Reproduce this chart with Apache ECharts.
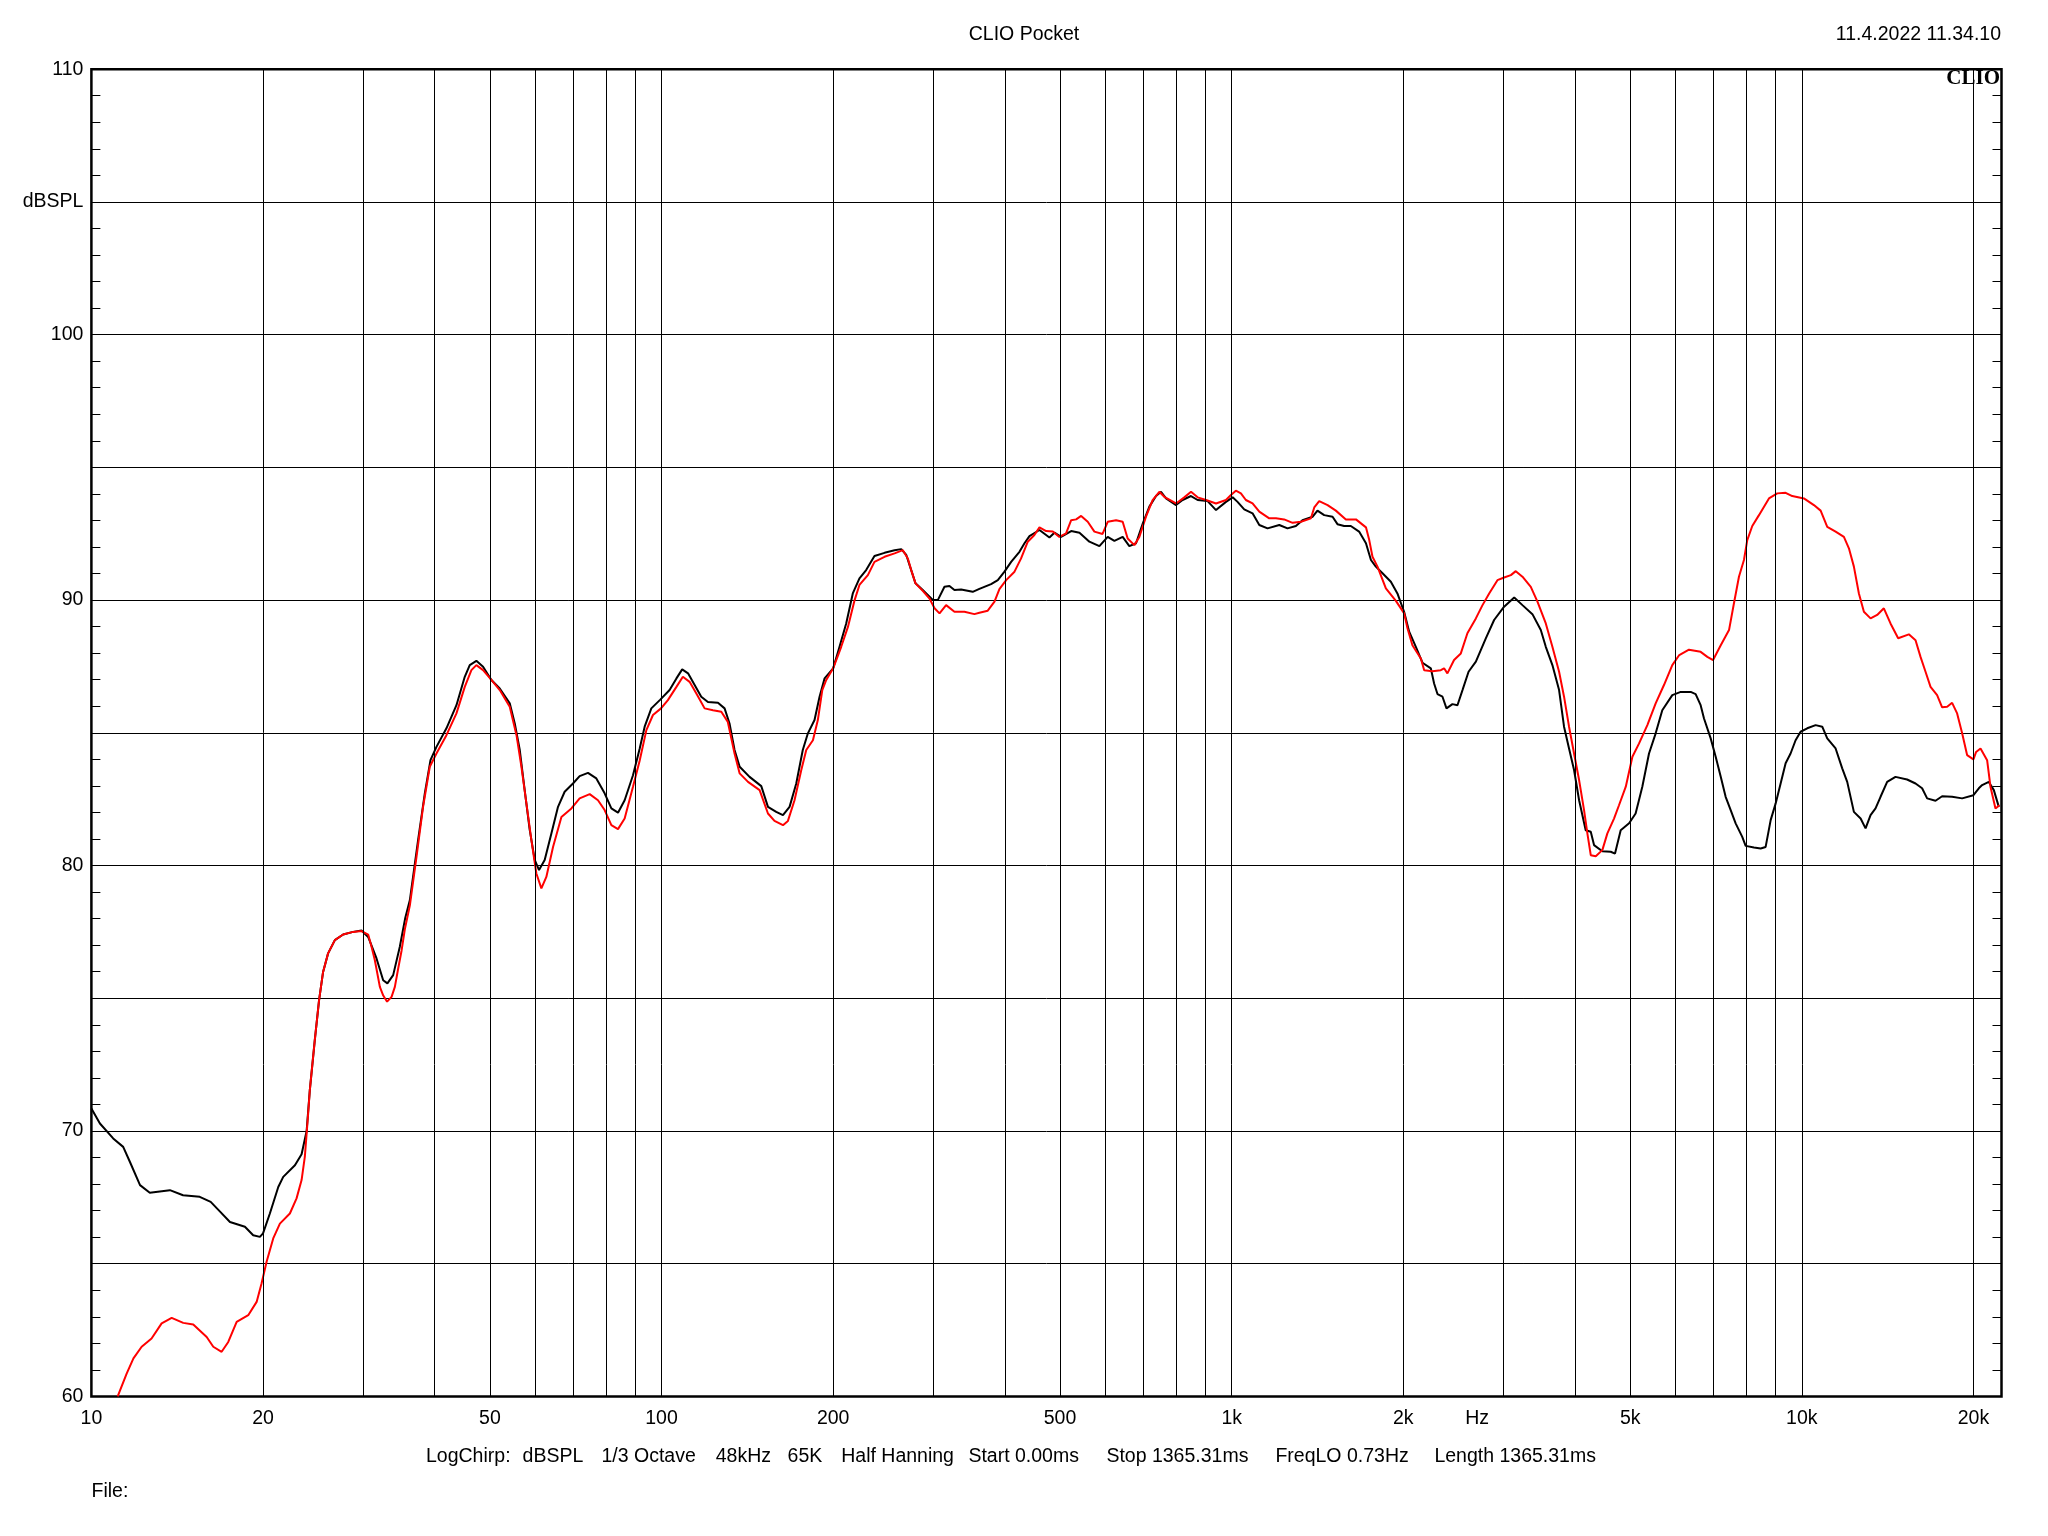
<!DOCTYPE html>
<html><head><meta charset="utf-8">
<script src="https://cdn.jsdelivr.net/npm/echarts@6/dist/echarts.min.js"></script>
<style>html,body{margin:0;padding:0;background:#fff}#c{width:2048px;height:1536px}</style>
</head><body><div id="c"></div>
<script>
// ---- data (frequency Hz, level dBSPL) ----
const blackCurve = [[10.0,70.85],[10.35,70.28],[10.92,69.72],[11.37,69.40],[11.68,68.84],[12.17,67.96],[12.66,67.67],[13.73,67.77],[14.48,67.58],[15.49,67.52],[16.19,67.33],[16.83,66.95],[17.5,66.57],[18.59,66.39],[19.22,66.07],[19.75,66.01],[20.0,66.14],[20.56,66.89],[21.27,67.89],[21.70,68.27],[22.75,68.71],[23.37,69.12],[23.85,70.0],[24.16,71.54],[24.65,73.42],[25.08,74.93],[25.49,75.99],[26.01,76.69],[26.73,77.19],[27.64,77.40],[28.78,77.50],[29.77,77.55],[30.58,77.31],[31.63,76.5],[32.49,75.68],[33.05,75.56],[33.83,75.87],[34.75,76.94],[35.5,78.0],[36.19,78.70],[37.41,80.96],[38.44,82.72],[39.33,83.97],[40.29,84.47],[41.95,85.17],[43.68,86.04],[45.17,87.11],[46.09,87.55],[47.34,87.71],[48.64,87.49],[50.30,86.99],[52.03,86.67],[54.17,86.11],[55.28,85.35],[56.41,84.35],[57.54,82.84],[58.72,81.34],[59.92,80.21],[60.97,79.83],[62.38,80.21],[64.09,81.21],[65.83,82.21],[67.62,82.78],[69.93,83.09],[71.84,83.37],[74.30,83.49],[76.85,83.28],[79.47,82.72],[81.66,82.15],[83.87,81.99],[86.16,82.46],[89.11,83.40],[91.54,84.4],[93.41,85.23],[95.96,85.92],[99.5,86.25],[103.3,86.61],[106.2,87.05],[108.7,87.39],[111.3,87.24],[114.3,86.80],[117.4,86.36],[120.6,86.16],[125.6,86.13],[129.0,85.92],[131.6,85.35],[134.3,84.35],[137.1,83.72],[142.7,83.34],[149.6,82.99],[153.7,82.21],[158.9,82.02],[163.3,81.90],[167.7,82.21],[172.3,83.09],[176.9,84.35],[180.6,84.98],[185.5,85.48],[189.3,86.36],[193.2,87.05],[200,87.43],[205.2,88.24],[210.8,89.12],[216.5,90.25],[222.4,90.82],[228.5,91.13],[236.3,91.66],[246.1,91.78],[256.3,91.88],[263.3,91.92],[268.7,91.70],[274.1,91.13],[278.9,90.63],[287.2,90.38],[299.1,90.0],[305.2,90.0],[313.5,90.50],[319.9,90.53],[326.4,90.38],[335.3,90.40],[351.4,90.31],[361.0,90.42],[378.5,90.60],[388.9,90.75],[399.5,91.07],[410.4,91.44],[424.4,91.82],[433.1,92.14],[441.9,92.41],[460.1,92.64],[479.0,92.36],[488.8,92.54],[502.1,92.38],[523.0,92.60],[540.8,92.54],[562.9,92.20],[586.1,92.03],[606.1,92.38],[622.7,92.23],[643.9,92.38],[661.5,92.03],[679.6,92.14],[698.5,92.89],[717.2,93.52],[736.8,93.92],[751.8,94.08],[767.1,93.83],[798.8,93.58],[820.1,93.77],[848.6,93.92],[871.5,93.77],[907.4,93.73],[938.7,93.39],[977.2,93.70],[1004,93.87],[1024,93.70],[1052,93.42],[1088,93.27],[1118,92.83],[1156,92.70],[1212,92.83],[1253,92.70],[1296,92.79],[1331,93.01],[1387,93.14],[1414,93.37],[1453,93.20],[1503,93.14],[1533,92.86],[1575,92.79],[1618,92.79],[1673,92.58],[1720,92.14],[1755,91.51],[1790,91.26],[1839,91.01],[1902,90.69],[1953,90.25],[2007,89.55],[2048,88.81],[2104,88.24],[2161,87.64],[2235,87.43],[2265,86.86],[2296,86.46],[2343,86.36],[2381,85.92],[2439,86.08],[2489,86.04],[2540,86.61],[2603,87.30],[2681,87.68],[2791,88.56],[2886,89.25],[3005,89.75],[3130,90.10],[3236,89.81],[3369,89.47],[3485,88.87],[3556,88.24],[3652,87.55],[3752,86.61],[3828,85.23],[3906,84.41],[3986,83.60],[4068,82.46],[4178,81.33],[4264,81.27],[4321,80.77],[4468,80.54],[4622,80.52],[4703,80.45],[4812,81.33],[4978,81.59],[5111,81.96],[5251,82.97],[5395,84.22],[5542,84.98],[5692,85.85],[5927,86.42],[6133,86.54],[6385,86.54],[6513,86.46],[6646,86.04],[6737,85.54],[6921,84.79],[7062,84.10],[7208,83.34],[7352,82.59],[7503,82.09],[7655,81.59],[7862,81.08],[7971,80.74],[8244,80.68],[8469,80.64],[8641,80.70],[8818,81.71],[8998,82.34],[9180,83.09],[9367,83.85],[9557,84.22],[9752,84.72],[9951,85.04],[10221,85.17],[10573,85.29],[10860,85.23],[11082,84.79],[11463,84.41],[11773,83.66],[12013,83.15],[12341,82.02],[12681,81.77],[12937,81.40],[13200,81.90],[13468,82.15],[13744,82.59],[14115,83.15],[14598,83.34],[15300,83.24],[15830,83.09],[16255,82.91],[16589,82.53],[17159,82.44],[17625,82.61],[18350,82.59],[19108,82.53],[20000,82.65],[20439,82.91],[20715,83.03],[21281,83.15],[21717,82.84],[22159,82.21]];

const redCurve = [[11.12,60.0],[11.53,60.86],[11.85,61.43],[12.25,61.87],[12.75,62.18],[13.28,62.75],[13.83,62.96],[14.49,62.77],[15.09,62.71],[15.93,62.24],[16.36,61.87],[16.92,61.68],[17.38,62.05],[17.98,62.81],[18.84,63.06],[19.49,63.56],[19.88,64.25],[20.29,65.07],[20.84,65.95],[21.41,66.51],[22.29,66.89],[22.90,67.46],[23.37,68.15],[23.68,69.03],[24.0,70.66],[24.16,71.54],[24.65,73.42],[25.08,74.93],[25.49,75.99],[26.01,76.69],[26.73,77.19],[27.64,77.40],[28.78,77.50],[29.77,77.53],[30.58,77.4],[31.0,76.94],[31.41,76.44],[32.06,75.43],[32.5,75.1],[33.01,74.87],[33.61,75.05],[34.06,75.43],[34.51,76.1],[35.0,76.8],[35.46,77.6],[36.19,78.5],[37.17,80.33],[38.17,82.21],[39.22,83.72],[40.29,84.22],[41.95,84.91],[43.68,85.73],[45.17,86.73],[46.40,87.36],[47.34,87.55],[48.64,87.36],[50.30,86.99],[52.03,86.61],[54.17,85.98],[55.67,84.91],[56.79,83.72],[57.94,82.34],[59.12,80.96],[60.32,79.70],[61.55,79.14],[62.80,79.57],[64.52,80.70],[66.74,81.83],[69.49,82.15],[71.84,82.53],[74.82,82.69],[77.36,82.46],[79.47,82.09],[81.66,81.52],[83.87,81.37],[86.16,81.77],[89.11,82.97],[91.54,83.95],[94.06,85.10],[96.60,85.67],[99.8,85.92],[102.6,86.23],[106.2,86.73],[109.0,87.11],[112.0,86.92],[115.1,86.48],[119.0,85.92],[123.1,85.85],[127.3,85.79],[130.7,85.41],[134.3,84.22],[137.1,83.47],[141.8,83.15],[148.6,82.84],[153.7,81.96],[157.8,81.68],[163.3,81.52],[166.6,81.68],[171.1,82.46],[175.8,83.59],[179.4,84.35],[184.3,84.72],[188.0,85.48],[191.4,86.61],[194.5,86.99],[200,87.43],[206.6,88.24],[212.3,88.99],[218.1,90.0],[222.4,90.57],[230.1,90.94],[236.3,91.44],[246.1,91.63],[256.3,91.76],[265.0,91.88],[270.4,91.57],[274.1,91.13],[278.9,90.63],[287.2,90.35],[295.1,90.06],[301.2,89.69],[307.3,89.50],[315.6,89.81],[326.4,89.56],[339.8,89.56],[353.8,89.47],[361.0,89.52],[373.4,89.60],[383.7,89.94],[391.4,90.41],[402.2,90.75],[416.0,91.07],[427.2,91.57],[438.9,92.20],[450.8,92.45],[460.1,92.74],[472.7,92.60],[485.6,92.58],[498.6,92.38],[512.3,92.51],[523.0,93.01],[533.6,93.04],[544.5,93.17],[559.2,92.95],[574.4,92.58],[593.7,92.49],[606.1,92.95],[627.0,93.01],[643.9,92.95],[657.0,92.32],[675.0,92.07],[688.7,92.38],[707.5,93.14],[726.7,93.77],[746.6,94.08],[761.7,93.89],[798.8,93.64],[825.8,93.87],[848.6,94.08],[871.5,93.87],[901.6,93.77],[938.7,93.64],[977.2,93.77],[997,93.96],[1017,94.12],[1038,94.02],[1059,93.77],[1088,93.64],[1118,93.33],[1164,93.08],[1196,93.08],[1236,93.04],[1279,92.91],[1323,92.95],[1377,93.08],[1396,93.49],[1424,93.73],[1473,93.58],[1523,93.37],[1586,93.04],[1652,93.04],[1720,92.74],[1743,92.26],[1766,91.63],[1802,91.26],[1864,90.44],[1941,89.97],[2007,89.5],[2034,88.94],[2075,88.3],[2147,87.80],[2176,87.36],[2250,87.32],[2327,87.36],[2358,87.43],[2390,87.24],[2455,87.74],[2523,87.99],[2591,88.75],[2681,89.31],[2754,89.81],[2829,90.25],[2925,90.75],[3005,90.85],[3088,90.94],[3150,91.09],[3236,90.88],[3347,90.50],[3438,89.94],[3556,89.12],[3652,88.24],[3752,87.30],[3828,86.36],[3906,85.23],[3986,84.22],[4068,83.22],[4150,82.09],[4206,81.21],[4264,80.39],[4351,80.35],[4468,80.58],[4560,81.21],[4684,81.77],[4779,82.27],[4912,82.97],[5045,84.10],[5183,84.60],[5359,85.29],[5542,86.11],[5731,86.80],[5927,87.55],[6096,87.93],[6340,88.13],[6646,88.05],[6828,87.86],[6988,87.74],[7208,88.30],[7453,88.87],[7603,89.88],[7758,90.88],[7916,91.51],[8023,92.26],[8187,92.79],[8411,93.20],[8757,93.83],[9056,94.02],[9367,94.04],[9621,93.92],[10085,93.83],[10500,93.58],[10790,93.37],[11082,92.76],[11463,92.58],[11853,92.38],[12095,91.95],[12341,91.26],[12593,90.25],[12850,89.56],[13200,89.31],[13558,89.44],[13928,89.69],[14308,89.12],[14757,88.56],[15407,88.71],[15830,88.49],[16152,87.86],[16482,87.30],[16819,86.73],[17271,86.42],[17625,85.96],[17986,85.98],[18350,86.13],[18725,85.73],[19108,84.98],[19495,84.16],[20000,84.00],[20218,84.28],[20580,84.41],[21136,83.97],[21424,82.97],[21862,82.15],[22217,82.27]];

// ---- axes ----
const xMin = 10, xMax = 22400;
const yMin = 60, yMax = 110, yStep = 5;
const gridFreqs = [20,30,40,50,60,70,80,90,100,200,300,400,500,600,700,800,900,1000,2000,3000,4000,5000,6000,7000,8000,9000,10000,20000];
const xLabelValues = [10,20,50,100,200,500,1000,2000,2695,5000,10000,20000];
const xLabelTexts  = ['10','20','50','100','200','500','1k','2k','Hz','5k','10k','20k'];
const yLabelTexts = {60:'60',70:'70',80:'80',90:'90',100:'100',105:'dBSPL',110:'110'};

// ---- texts ----
const titleText = 'CLIO Pocket';
const dateText = '11.4.2022 11.34.10';
const logoText = 'CLIO';
const fileText = 'File:';
const infoItems = ['LogChirp:','dBSPL','1/3 Octave','48kHz','65K','Half Hanning','Start 0.00ms','Stop 1365.31ms','FreqLO 0.73Hz','Length 1365.31ms'];
// layout (pixel x of each info item)
const infoLayoutX = [426,522.6,601.5,715.7,787.6,841.2,968.4,1106.4,1275.4,1434.4];

const FONT = '"Liberation Sans", Arial, sans-serif';
const FS = 19.5;

const chart = echarts.init(document.getElementById('c'), null, {renderer:'canvas'});

function xFmt(v){
  for (let i=0;i<xLabelValues.length;i++){
    if (Math.abs(v - xLabelValues[i]) / xLabelValues[i] < 1e-4) return xLabelTexts[i];
  }
  return '';
}

const graphics = [
  {type:'text', x:1024, y:35, style:{text:titleText, font: FS+'px '+FONT, fill:'#000', textAlign:'center', textVerticalAlign:'middle'}},
  {type:'text', x:2001, y:35, style:{text:dateText, font: FS+'px '+FONT, fill:'#000', textAlign:'right', textVerticalAlign:'middle'}},
  {type:'text', x:2000, y:79, z:10, style:{text:logoText, font:'bold 21px "Liberation Serif", "Times New Roman", serif', fill:'#000', textAlign:'right', textVerticalAlign:'middle'}},
  {type:'text', x:91.5, y:1492, style:{text:fileText, font: FS+'px '+FONT, fill:'#000', textAlign:'left', textVerticalAlign:'middle'}}
];
infoItems.forEach((t,i)=>{
  graphics.push({type:'text', x:infoLayoutX[i], y:1457, style:{text:t, font: FS+'px '+FONT, fill:'#000', textAlign:'left', textVerticalAlign:'middle'}});
});

const option = {
  backgroundColor:'#fff',
  animation:false,
  grid:{left:91.4, right:46.5, top:69.2, bottom:139.6, show:true, borderColor:'#000', borderWidth:2.5, backgroundColor:'#fff', containLabel:false},
  xAxis:{
    type:'log', logBase:10, min:xMin, max:xMax,
    axisLine:{show:false}, axisTick:{show:false}, splitLine:{show:false}, minorSplitLine:{show:false},
    axisLabel:{show:true, customValues:xLabelValues, formatter:xFmt, color:'#000', fontSize:FS, fontFamily:FONT, margin:12, showMinLabel:true, showMaxLabel:true}
  },
  yAxis:[{
    type:'value', min:yMin, max:yMax, interval:yStep, position:'left',
    axisLine:{show:false},
    axisTick:{show:true, inside:true, length:9, lineStyle:{color:'#000', width:1}},
    minorTick:{show:true, splitNumber:5, length:9, lineStyle:{color:'#000', width:1}},
    splitLine:{show:true, lineStyle:{color:'#000', width:1}},
    axisLabel:{color:'#000', fontSize:FS, fontFamily:FONT, margin:8, formatter:v=> (yLabelTexts[v]!==undefined? yLabelTexts[v] : '')}
  },{
    type:'value', min:yMin, max:yMax, interval:yStep, position:'right',
    axisLine:{show:false},
    axisTick:{show:true, inside:true, length:9, lineStyle:{color:'#000', width:1}},
    minorTick:{show:true, splitNumber:5, length:9, lineStyle:{color:'#000', width:1}},
    splitLine:{show:false}, axisLabel:{show:false}
  }],
  series:[
    {type:'line', name:'grid', data:[], z:1, silent:true, showSymbol:false,
     markLine:{silent:true, symbol:['none','none'], animation:false, label:{show:false},
       lineStyle:{color:'#000', width:1, type:'solid'},
       data: gridFreqs.map(f=>({xAxis:f}))}},
    {type:'line', name:'black', data:blackCurve, z:3, showSymbol:false, symbol:'none', smooth:false, clip:true,
     lineStyle:{color:'#000', width:2}, itemStyle:{color:'#000'}},
    {type:'line', name:'red', data:redCurve, z:4, showSymbol:false, symbol:'none', smooth:false, clip:true,
     lineStyle:{color:'#ff0000', width:2}, itemStyle:{color:'#ff0000'}}
  ],
  graphic: graphics
};
chart.setOption(option);
</script>
</body></html>
